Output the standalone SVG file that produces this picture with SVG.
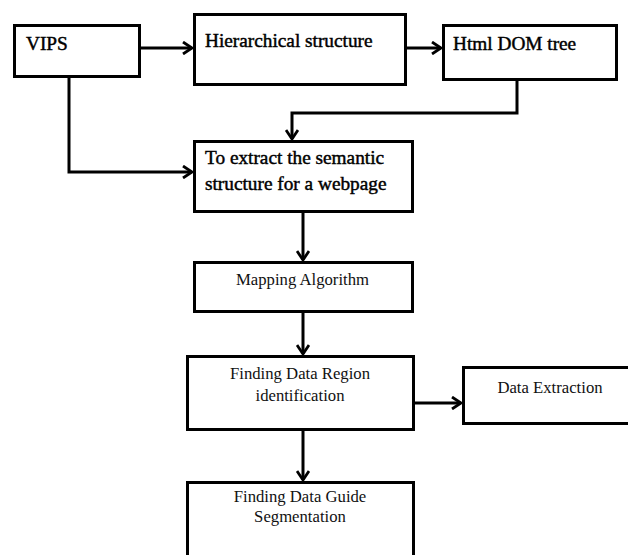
<svg xmlns="http://www.w3.org/2000/svg" width="628" height="555" viewBox="0 0 628 555">
<defs>
<marker id="arr" markerUnits="userSpaceOnUse" markerWidth="14" markerHeight="14" refX="11" refY="7" orient="auto">
<path d="M2,1 L11,7 L2,13" fill="none" stroke="#000" stroke-width="2.8"/>
</marker>
<style>
.box{fill:#fff;stroke:#000;stroke-width:3}
.big{font-family:"Liberation Serif","Times New Roman",serif;font-size:19.3px;fill:#000;stroke:#000;stroke-width:0.45}
.sm{font-family:"Liberation Serif","Times New Roman",serif;font-size:16.7px;fill:#111;text-anchor:middle}
.con{fill:none;stroke:#000;stroke-width:3;marker-end:url(#arr)}
</style>
</defs>
<rect width="628" height="555" fill="#fff"/>
<g id="connectors">
<path class="con" d="M141,48 H192"/>
<path class="con" d="M407,48 H441"/>
<path class="con" d="M517,81 V113 H292 V139"/>
<path class="con" d="M69,78 V172 H192"/>
<path class="con" d="M303,213 V260"/>
<path class="con" d="M303,313 V354"/>
<path class="con" d="M415,403 H461"/>
<path class="con" d="M303,431 V480"/>
</g>
<g id="vips">
<rect class="box" x="14.5" y="25.5" width="125" height="51"/>
<text class="big" x="26" y="50">VIPS</text>
</g>
<g id="hierarchical">
<rect class="box" x="194.5" y="14.5" width="211" height="70"/>
<text class="big" x="205" y="47">Hierarchical structure</text>
</g>
<g id="htmldom">
<rect class="box" x="443.5" y="25.5" width="173" height="54"/>
<text class="big" x="453" y="50">Html DOM tree</text>
</g>
<g id="extract">
<rect class="box" x="194.5" y="141.5" width="218" height="70"/>
<text class="big" x="205" y="164">To extract the semantic</text>
<text class="big" x="205" y="190">structure for a webpage</text>
</g>
<g id="mapping">
<rect class="box" x="194.5" y="262.5" width="218" height="49"/>
<text class="sm" x="302.5" y="285">Mapping Algorithm</text>
</g>
<g id="finding-region">
<rect class="box" x="187.5" y="356.5" width="226" height="73"/>
<text class="sm" x="300" y="379">Finding Data Region</text>
<text class="sm" x="300" y="400.5">identification</text>
</g>
<g id="data-extraction">
<rect class="box" x="463.5" y="367.5" width="170" height="56"/>
<text class="sm" x="550" y="393">Data Extraction</text>
</g>
<g id="finding-guide">
<rect class="box" x="187.5" y="482.5" width="226" height="80"/>
<text class="sm" x="300" y="502">Finding Data Guide</text>
<text class="sm" x="300" y="522">Segmentation</text>
</g>
</svg>
